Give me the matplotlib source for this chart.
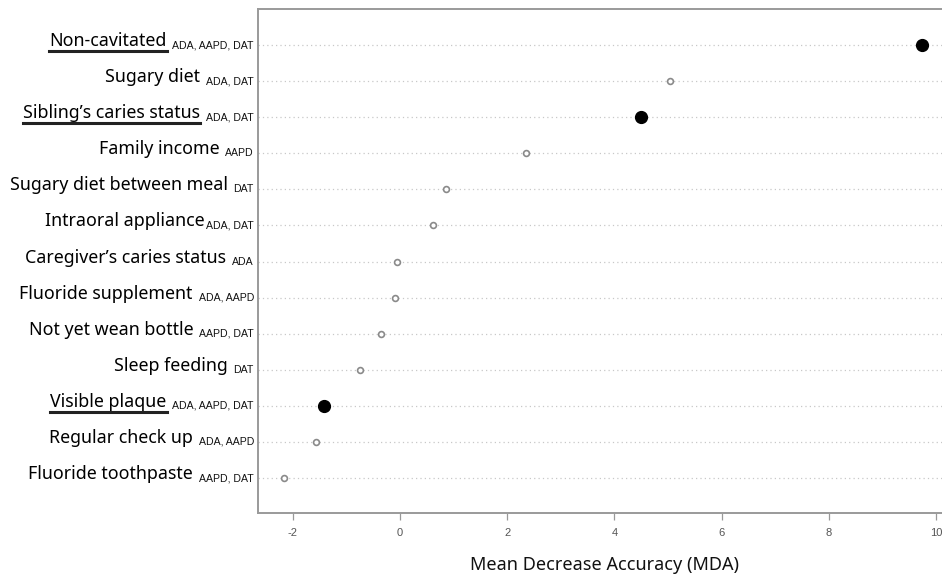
import matplotlib
matplotlib.use("Agg")
import matplotlib.pyplot as plt
import numpy as np

# variables, bottom to top as drawn
labels = ["Fluoride toothpaste", "Regular check up", "Visible plaque", "Sleep feeding",
          "Not yet wean bottle", "Fluoride supplement", "Caregiver\u2019s caries status",
          "Intraoral appliance", "Sugary diet between meal", "Family income",
          "Sibling\u2019s caries status", "Sugary diet", "Non-cavitated"]
subs = ["AAPD, DAT", "ADA, AAPD", "ADA, AAPD, DAT", "DAT", "AAPD, DAT", "ADA, AAPD", "ADA",
        "ADA, DAT", "DAT", "AAPD", "ADA, DAT", "ADA, DAT", "ADA, AAPD, DAT"]
mda = [-2.16, -1.57, -1.42, -0.75, -0.35, -0.09, -0.06, 0.62, 0.86, 2.35, 4.50, 5.04, 9.74]
key = [False, False, True, False, False, False, False, False, False, False, True, False, True]
xticks = [-2, 0, 2, 4, 6, 8, 10]

fig = plt.figure(figsize=(9.42, 5.76), dpi=100)
ax = fig.add_axes([258/942, 1-513/576, 694/942, 504/576])
ypos = np.arange(1, len(labels)+1)

for y in ypos:
    ax.axhline(y, color="#c8c8c8", lw=0.9, ls=(0, (1, 2.5)), zorder=1)

mda = np.array(mda); key = np.array(key)
ax.plot(mda[~key], ypos[~key], "o", ms=4.2, mfc="white", mec="#8a8a8a", mew=1.2, zorder=3)
ax.plot(mda[key], ypos[key], "o", ms=8.5, color="black", zorder=3)

ax.set_xlim(-2.65, 10.3)
ax.set_ylim(0.03, 14)
ax.set_xticks(xticks)
ax.set_xticklabels([str(t) for t in xticks], family="Liberation Sans", fontsize=8, color="#555555")
ax.set_yticks([])
ax.tick_params(axis="x", length=5, width=0.9, color="#999999", pad=6)
for s in ["left", "top", "bottom"]:
    ax.spines[s].set_color("#9a9a9a")
    ax.spines[s].set_linewidth(1.4)
ax.spines["right"].set_visible(False)
ax.set_xlabel("Mean Decrease Accuracy (MDA)", family="Noto Sans", fontsize=13, color="#111111", labelpad=13)

fig.canvas.draw()
r = fig.canvas.get_renderer()
for y, lab, sub, k in zip(ypos, labels, subs, key):
    _, py = ax.transData.transform((0, y))
    sx = 258 - 4
    st = fig.text(sx/942, (py-3)/576, sub, family="Liberation Sans", fontsize=7.6,
                  color="#111111", ha="right", va="baseline")
    bb = st.get_window_extent(r)
    gap = 2 if lab == "Intraoral appliance" else 6
    mx = bb.x0 - gap
    mt = fig.text(mx/942, (py-1)/576, lab, family="Noto Sans", fontsize=12.8,
                  color="#000000", ha="right", va="baseline")
    if k:
        mb = mt.get_window_extent(r)
        uy = (py - 6) / 576
        fig.add_artist(plt.Line2D([mb.x0/942, mb.x1/942], [uy, uy], color="#222222", lw=2.2))

fig.savefig("out.png", dpi=100)
